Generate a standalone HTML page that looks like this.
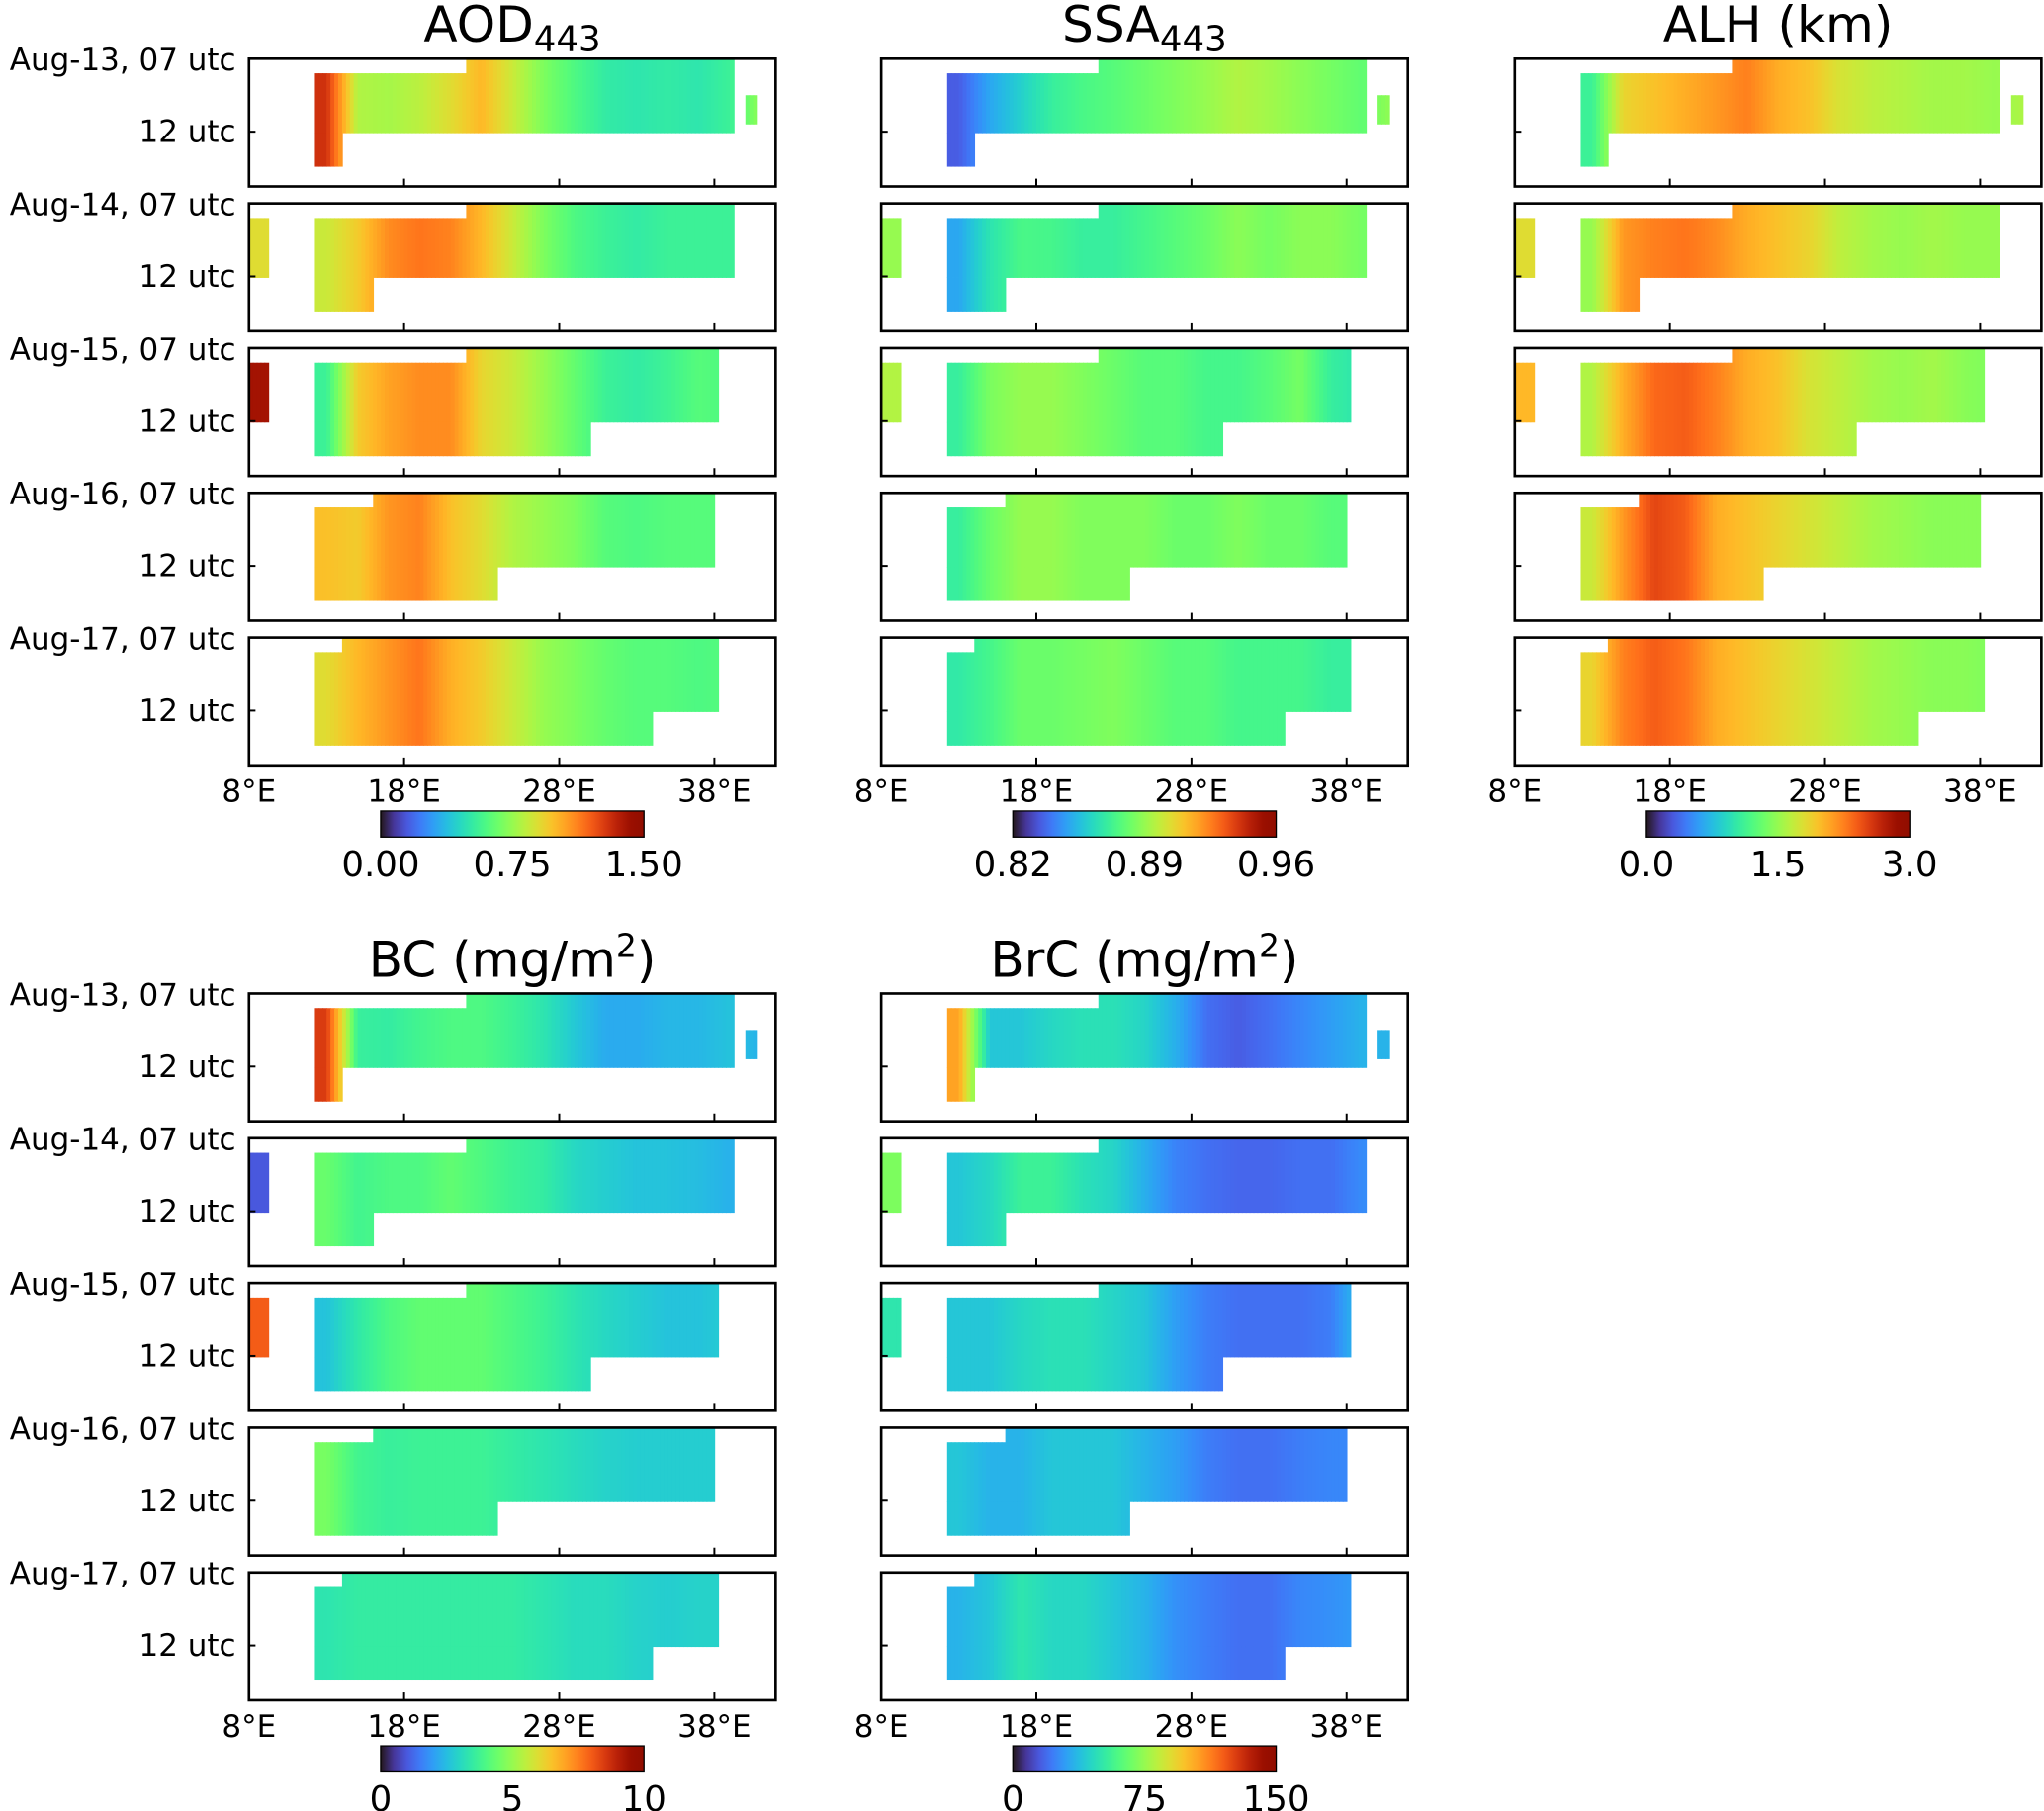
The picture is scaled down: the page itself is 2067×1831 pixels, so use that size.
<!DOCTYPE html>
<html><head><meta charset="utf-8"><style>
html,body{margin:0;padding:0;background:#fff;}
svg{display:block;font-family:"DejaVu Sans","Liberation Sans",sans-serif;}
</style></head><body>
<svg id="fig" width="2067" height="1831" viewBox="0 0 1568 1389" preserveAspectRatio="none" xmlns="http://www.w3.org/2000/svg"></svg>
<script>
// ---- data: per-day longitude profiles (bins 8-10,10-12,...,40-42 °E) ----
const lonBins = [8,10,12,14,16,18,20,22,24,26,28,30,32,34,36,38,40];
const days = ["Aug-13","Aug-14","Aug-15","Aug-16","Aug-17"];
const xTicks = [8,18,28,38];
const xTickLabels = ["8°E","18°E","28°E","38°E"];
const n = null;
const aodVals = [
 [n,n,1.3,0.8,0.78,0.82,0.9,1.0,0.85,0.7,0.6,0.52,0.5,0.52,0.5,0.55,0.75],
 [0.9,n,0.85,0.95,1.1,1.15,1.12,1.0,0.85,0.7,0.6,0.55,0.52,0.55,0.55,0.55,n],
 [1.4,n,0.55,0.95,1.05,1.1,1.1,0.92,0.85,0.75,0.65,0.55,0.52,0.56,0.62,0.6,n],
 [n,n,0.98,0.95,1.08,1.12,0.98,0.9,0.8,0.75,0.7,0.62,0.6,0.62,0.62,n,n],
 [n,n,0.9,1.0,1.08,1.15,1.02,0.95,0.85,0.75,0.7,0.65,0.62,0.62,0.6,0.62,n]];
const ssaVals = [
 [n,n,0.835,0.85,0.86,0.87,0.875,0.878,0.882,0.886,0.89,0.895,0.892,0.888,0.884,0.88,0.89],
 [0.89,n,0.85,0.866,0.875,0.874,0.87,0.87,0.874,0.878,0.882,0.888,0.884,0.888,0.888,0.884,n],
 [0.895,n,0.87,0.885,0.89,0.89,0.886,0.882,0.878,0.878,0.874,0.874,0.878,0.884,0.87,0.866,n],
 [n,n,0.87,0.882,0.89,0.89,0.886,0.886,0.886,0.882,0.882,0.886,0.882,0.882,0.878,n,n],
 [n,n,0.868,0.874,0.882,0.882,0.884,0.886,0.882,0.878,0.878,0.874,0.874,0.874,0.87,0.87,n]];
const alhVals = [
 [n,n,1.1,1.85,1.95,2.05,2.15,2.25,2.05,1.95,1.75,1.65,1.6,1.55,1.55,1.5,1.6],
 [1.8,n,1.5,2.15,2.25,2.3,2.2,2.05,1.95,1.85,1.65,1.55,1.5,1.55,1.5,1.5,n],
 [2.0,n,1.6,2.05,2.35,2.4,2.25,2.05,1.95,1.75,1.65,1.55,1.5,1.55,1.45,1.4,n],
 [n,n,1.7,2.15,2.5,2.4,2.05,1.95,1.85,1.75,1.65,1.55,1.5,1.45,1.45,n,n],
 [n,n,1.85,2.25,2.4,2.3,2.05,1.95,1.85,1.75,1.65,1.55,1.5,1.45,1.45,1.4,n]];
const bcVals = [
 [n,n,8.5,3.6,3.5,3.8,4.0,4.0,3.7,3.3,2.7,2.2,2.2,2.4,2.4,2.6,2.3],
 [1.0,n,4.4,3.8,4.0,4.0,4.3,4.0,3.7,3.5,3.0,2.8,2.6,2.6,2.5,2.3,n],
 [8.0,n,2.6,3.4,4.0,4.3,4.3,4.3,4.0,3.7,3.3,3.0,2.8,2.6,2.6,2.8,n],
 [n,n,4.6,3.8,3.6,3.7,3.7,3.7,3.5,3.3,3.1,2.9,2.8,2.8,2.8,n,n],
 [n,n,3.3,3.5,3.5,3.5,3.5,3.5,3.5,3.3,3.1,3.1,2.9,2.8,2.9,2.9,n]];
const brcVals = [
 [n,n,105,40,40,45,48,48,44,34,20,16,20,25,30,35,35],
 [70,n,40,45,55,55,48,44,34,24,20,18,18,20,20,26,n],
 [50,n,40,40,45,48,48,44,40,30,23,20,20,20,23,40,n],
 [n,n,40,35,35,40,40,40,35,30,23,20,20,23,25,n,n],
 [n,n,35,40,50,45,45,40,35,27,23,20,20,25,27,30,n]];
// coverage of observations per day
const topStartBin = [7,7,7,4,3];
const lowStartBin = [2,2,2,2,2];
const lowEndBin = [2,3,10,7,12];
const lonMax = [39.2,39.2,38.2,38,38.2];
const cbTicks = [["0.00","0.75","1.50"],["0.82","0.89","0.96"],["0.0","1.5","3.0"],["0","5","10"],["0","75","150"]];

const panels = [
 {name:"aod",title:"AOD",sub:"443",vals:aodVals,min:0,max:1.5,col:0,block:0},
 {name:"ssa",title:"SSA",sub:"443",vals:ssaVals,min:0.82,max:0.96,col:1,block:0},
 {name:"alh",title:"ALH (km)",sub:"",vals:alhVals,min:0,max:3,col:2,block:0},
 {name:"bc",title:"BC (mg/m",sup:"2",vals:bcVals,min:0,max:10,col:0,block:1},
 {name:"brc",title:"BrC (mg/m",sup:"2",vals:brcVals,min:0,max:150,col:1,block:1}];

const NS="http://www.w3.org/2000/svg";
const svg=document.getElementById('fig');
function mk(tag,attrs,parent){const e=document.createElementNS(NS,tag);for(const k in attrs)e.setAttribute(k,attrs[k]);(parent||svg).appendChild(e);return e;}
function turbo(x){x=Math.max(0,Math.min(1,x));
 const r=0.13572138+x*(4.61539260+x*(-42.66032258+x*(132.13108234+x*(-152.94239396+x*59.28637943))));
 const g=0.09140261+x*(2.19418839+x*(4.84296658+x*(-14.18503333+x*(4.27729857+x*2.82956604))));
 const b=0.10667330+x*(12.64194608+x*(-60.58204836+x*(110.36276771+x*(-89.90310912+x*27.34824973))));
 const c=v=>Math.round(Math.max(0,Math.min(1,v))*255);return `rgb(${c(r)},${c(g)},${c(b)})`;}

const colX=[191,676,1162], PW=404, PH=98, rowTop=[45,156,267,378,489], blockOff=[0,717];
const xScale=(x0,lon)=>x0+(lon-8)*11.9;
const yScale=(y0,h)=>y0+(h-7)*11.2;

function valAt(arr,lon){
 const f=(lon-9)/2; let i=Math.floor(f), t=f-i;
 const a=arr[Math.max(0,Math.min(16,i))], b=arr[Math.max(0,Math.min(16,i+1))];
 if(a==null) return b; if(b==null) return a; return a+(b-a)*t;}

const defs=mk('defs',{});
const grad=mk('linearGradient',{id:'turboGrad',x1:'0',x2:'1',y1:'0',y2:'0'},defs);
for(let i=0;i<=20;i++){mk('stop',{offset:(i/20),'stop-color':turbo(i/20)},grad);}

panels.forEach((p,pi)=>{
 const x0=colX[p.col], off=blockOff[p.block];
 const g=mk('g',{});
 
 
 const cx=x0+PW/2, ty=off+32;
 const t=mk('text',{x:cx,y:ty,'text-anchor':'middle','font-size':38},g);
 
 
 t.appendChild(document.createTextNode(p.title));
 if(p.sub){const s=mk('tspan',{'font-size':27,dy:7},t);s.textContent=p.sub;}
 if(p.sup){const s=mk('tspan',{'font-size':25,dy:-15},t);s.textContent=p.sup;const s2=mk('tspan',{'font-size':38,dy:15},t);s2.textContent=")";}
 days.forEach((d,di)=>{
  const y0=rowTop[di]+off;
  const pg=mk('g',{},g);
  
  
  const arr=p.vals[di];
  const step=0.25;
  for(let lon=8;lon<42;lon+=step){
   const bi=Math.floor((lon-8)/2);
   if(arr[bi]==null) continue;
   if(bi<2 && lon>=9.25) continue;
   if(bi>=2 && lon<12.1) continue;
   if(bi>=2 && lon>=lonMax[di] && !(bi===16)) continue;
   if(bi===16 && lon>40.5) continue;
   const v=valAt(arr,lon+step/2);
   const col=turbo((v-p.min)/(p.max-p.min));
   const xa=xScale(x0,lon), w=step*11.9+0.6;
   let hs=bi>=topStartBin[di]?7.05:8;
   let he=12.1;
   if(bi===16){hs=9.5;he=11.5;}
   const cell=mk('rect',{x:xa,y:yScale(y0,hs),width:w,height:yScale(y0,he)-yScale(y0,hs),fill:col},pg);
   
   
   if(bi>=lowStartBin[di]&&bi<=lowEndBin[di]){
    const c2=mk('rect',{x:xa,y:yScale(y0,12.1)-0.3,width:w,height:yScale(y0,14.4)-yScale(y0,12.1)+0.3,fill:col},pg);
    
    
   }
  }
  const fr=mk('rect',{x:x0,y:y0,width:PW,height:PH,fill:'none',stroke:'#000','stroke-width':2},pg);
  
  
  mk('line',{x1:x0,x2:x0+5,y1:yScale(y0,12),y2:yScale(y0,12),stroke:'#000','stroke-width':1.5},pg);
  xTicks.forEach(lv=>{if(lv>8)mk('line',{x1:xScale(x0,lv),x2:xScale(x0,lv),y1:y0+PH,y2:y0+PH-6,stroke:'#000','stroke-width':1.5},pg);});
  if(p.col===0){
   const l1=mk('text',{x:181,y:y0+9,'text-anchor':'end','font-size':23.5},pg);
   l1.textContent=d+', 07 utc';
   
   
   const l2=mk('text',{x:181,y:yScale(y0,12)+8,'text-anchor':'end','font-size':23.5},pg);
   l2.textContent='12 utc';
   
   
  }
 });
 const by=rowTop[4]+off+PH;
 xTicks.forEach((lv,i)=>{
  const tx=mk('text',{x:xScale(x0,lv),y:by+28,'text-anchor':'middle','font-size':23.5},g);
  tx.textContent=xTickLabels[i];
  
  
 });
 const cbx=x0+101, cby=off+622, cbw=202;
 const cb=mk('rect',{x:cbx,y:cby,width:cbw,height:20,fill:'url(#turboGrad)',stroke:'#000','stroke-width':1},g);
 
 
 cbTicks[pi].forEach((lab,i)=>{
  const tx=mk('text',{x:cbx+i*cbw/2,y:cby+50,'text-anchor':'middle','font-size':27},g);
  tx.textContent=lab;
  
  
 });
});
</script>
</body></html>
